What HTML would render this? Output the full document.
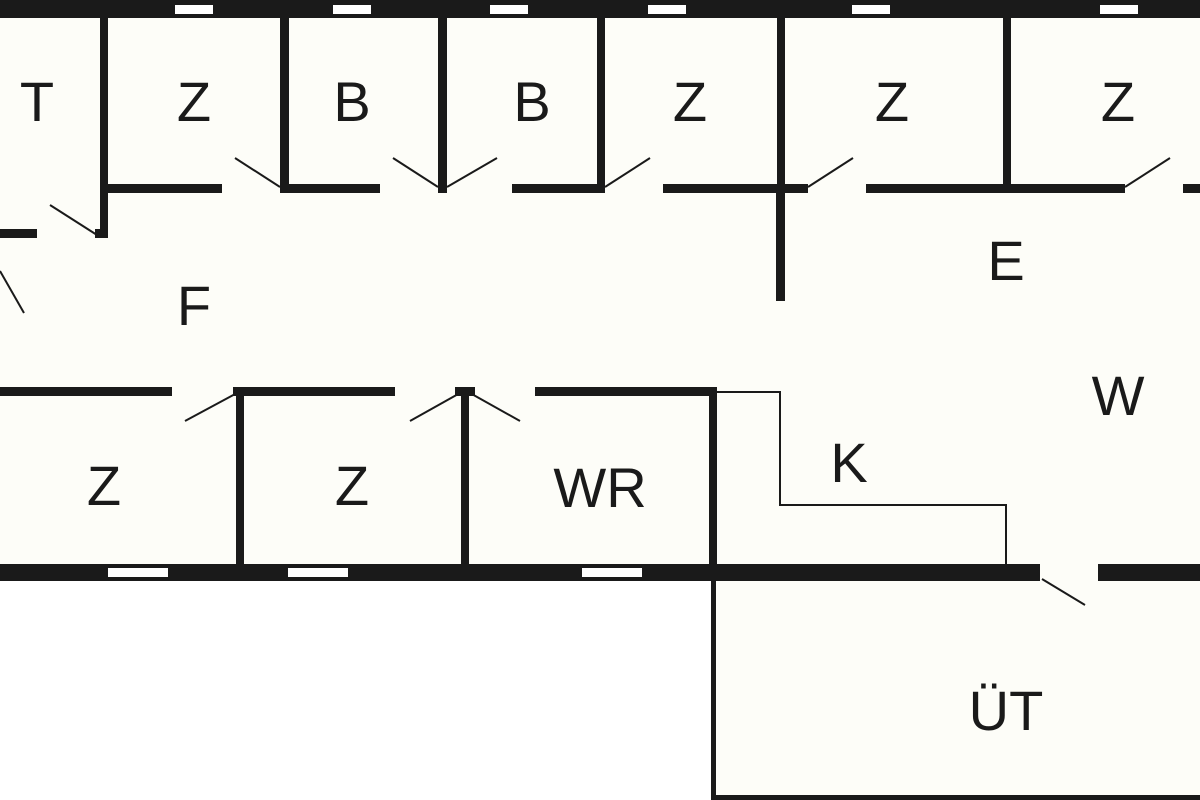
<!DOCTYPE html>
<html><head><meta charset="utf-8"><style>
html,body{margin:0;padding:0;background:#fff;}
svg{display:block;}
text{font-family:"Liberation Sans",sans-serif;font-size:56px;fill:#1a1a1a;text-anchor:middle;}
</style></head><body>
<svg width="1200" height="800" viewBox="0 0 1200 800">
<rect x="0" y="0" width="1200" height="580" fill="#fdfdf8"/>
<rect x="713" y="580" width="487" height="220" fill="#fdfdf8"/>
<g fill="#1a1a1a">
<!-- top wall -->
<rect x="0" y="0" width="1200" height="18"/>
<!-- top dividers -->
<rect x="100" y="17" width="8" height="221"/>
<rect x="280" y="17" width="9" height="176"/>
<rect x="438" y="17" width="9" height="176"/>
<rect x="597" y="17" width="8" height="176"/>
<rect x="777" y="17" width="8" height="176"/>
<rect x="1003" y="17" width="8" height="176"/>
<!-- corridor top wall -->
<rect x="108" y="184" width="114" height="9"/>
<rect x="280" y="184" width="100" height="9"/>
<rect x="438" y="184" width="9" height="9"/>
<rect x="512" y="184" width="93" height="9"/>
<rect x="663" y="184" width="145" height="9"/>
<rect x="866" y="184" width="259" height="9"/>
<rect x="1183" y="184" width="17" height="9"/>
<!-- T bottom -->
<rect x="0" y="229" width="37" height="9"/>
<rect x="95" y="229" width="13" height="9"/>
<!-- central stub -->
<rect x="776" y="190" width="9" height="111"/>
<!-- lower corridor wall -->
<rect x="0" y="387" width="172" height="9"/>
<rect x="233" y="387" width="162" height="9"/>
<rect x="455" y="387" width="20" height="9"/>
<rect x="535" y="387" width="182" height="9"/>
<rect x="236" y="392" width="8" height="174"/>
<rect x="461" y="392" width="8" height="174"/>
<rect x="709" y="392" width="8" height="174"/>
<!-- bottom wall -->
<rect x="0" y="564" width="1040" height="17"/>
<rect x="1098" y="564" width="102" height="17"/>
<!-- UT -->
<rect x="711" y="578" width="5" height="222"/>
<rect x="711" y="795" width="489" height="5"/>
</g>
<!-- windows -->
<g fill="#fff">
<rect x="175" y="5" width="38" height="9"/>
<rect x="333" y="5" width="38" height="9"/>
<rect x="490" y="5" width="38" height="9"/>
<rect x="648" y="5" width="38" height="9"/>
<rect x="852" y="5" width="38" height="9"/>
<rect x="1100" y="5" width="38" height="9"/>
<rect x="108" y="568" width="60" height="9"/>
<rect x="288" y="568" width="60" height="9"/>
<rect x="582" y="568" width="60" height="9"/>
</g>
<!-- door swings -->
<g stroke="#1a1a1a" stroke-width="2" fill="none">
<line x1="280" y1="187" x2="235" y2="158"/>
<line x1="438" y1="187" x2="393" y2="158"/>
<line x1="447" y1="187" x2="497" y2="158"/>
<line x1="605" y1="187" x2="650" y2="158"/>
<line x1="808" y1="187" x2="853" y2="158"/>
<line x1="1125" y1="187" x2="1170" y2="158"/>
<line x1="97" y1="235" x2="50" y2="205"/>
<line x1="0" y1="271" x2="24" y2="313"/>
<line x1="237" y1="393" x2="185" y2="421"/>
<line x1="460" y1="393" x2="410" y2="421"/>
<line x1="470" y1="393" x2="520" y2="421"/>
<line x1="1042" y1="579" x2="1085" y2="605"/>
<polyline points="717,392 780,392 780,505 1006,505 1006,565"/>
</g>
<text x="37" y="121">T</text>
<text x="194" y="121">Z</text>
<text x="352" y="121">B</text>
<text x="532" y="121">B</text>
<text x="690" y="121">Z</text>
<text x="892" y="121">Z</text>
<text x="1118" y="121">Z</text>
<text x="1006" y="280">E</text>
<text x="194" y="325">F</text>
<text x="1118" y="415">W</text>
<text x="849" y="482">K</text>
<text x="104" y="505">Z</text>
<text x="352" y="505">Z</text>
<text x="600" y="507">WR</text>
<text x="1006" y="730">ÜT</text>
</svg>
</body></html>
